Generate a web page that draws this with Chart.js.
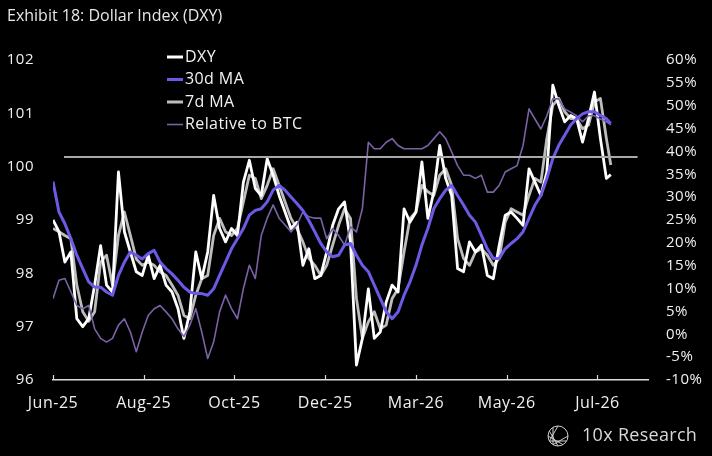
<!DOCTYPE html>
<html><head><meta charset="utf-8">
<script src="https://cdn.jsdelivr.net/npm/chart.js@4.4.1/dist/chart.umd.min.js"></script>
<style>html,body{margin:0;padding:0;background:#000;}#wrap{position:relative;width:712px;height:456px;background:#000;}</style>
</head><body><div id="wrap"><canvas id="c" width="712" height="456"></canvas></div>
<script>
// ---- data ----
const titleText = 'Exhibit 18: Dollar Index (DXY)';
const tickDays = [0, 61, 122, 183, 244, 305, 366];
const tickLabels = ['Jun-25', 'Aug-25', 'Oct-25', 'Dec-25', 'Mar-26', 'May-26', 'Jul-26'];
const leftTicks = [96, 97, 98, 99, 100, 101, 102];
const seriesNames = ['DXY', '30d MA', '7d MA', 'Relative to BTC'];

const days = [0,4,8,12,16,20,24,28,32,36,40,44,48,52,56,60,64,68,72,76,80,84,88,92,96,
  100,104,108,112,116,120,124,128,132,136,140,144,148,152,156,160,164,168,172,176,180,184,188,192,
  196,200,204,208,212,216,220,224,228,232,236,240,244,248,252,256,260,264,268,272,276,280,284,288,292,
  296,300,304,308,312,316,320,324,328,332,336,340,344,348,352,356,360,364,368,372,375];

const dxy = [99.0,98.78,98.21,98.4,97.15,97.0,97.15,97.78,98.52,97.78,97.65,99.9,98.78,98.4,98.03,97.96,98.34,97.9,98.15,97.78,97.65,97.34,96.78,97.28,98.4,
  97.9,98.4,99.46,98.84,98.59,98.84,98.71,99.71,100.12,99.59,99.46,100.15,99.84,99.46,99.15,98.84,98.96,98.15,98.46,97.9,97.96,98.4,98.9,99.21,
  99.34,98.59,96.28,96.78,97.71,96.78,96.9,97.46,97.78,97.65,99.21,98.96,99.15,100.09,99.03,99.53,100.4,99.78,99.46,98.09,98.03,98.59,98.4,98.53,97.96,
  97.9,98.53,99.09,99.15,99.03,98.9,99.96,99.71,99.46,99.9,101.53,101.15,100.84,100.96,100.9,100.46,100.9,101.4,100.53,99.78,99.85];

const ma7 = [98.84,98.78,98.71,98.65,97.78,97.28,97.1,97.28,98.21,98.34,97.78,98.71,99.15,98.71,98.27,98.15,98.21,98.15,98.03,97.96,97.78,97.59,97.21,97.15,97.59,
  97.9,97.96,98.71,99.03,98.78,98.71,98.84,99.34,99.84,99.78,99.4,99.65,99.96,99.65,99.34,99.03,98.84,98.59,98.28,98.15,97.96,98.15,98.53,98.9,
  99.21,99.03,97.53,96.78,97.09,97.28,96.96,97.03,97.53,97.71,98.4,99.03,99.15,99.65,99.53,99.46,99.84,99.96,99.65,98.65,98.28,98.15,98.4,98.46,98.34,
  98.15,98.28,98.96,99.21,99.15,99.09,99.46,99.78,99.71,100.53,101.15,101.28,101.03,100.9,100.9,100.71,100.78,101.21,101.28,100.53,100.03];

const ma30 = [99.72,99.15,98.93,98.65,98.34,98.09,97.84,97.74,97.74,97.65,97.59,97.96,98.21,98.4,98.34,98.27,98.37,98.43,98.21,98.09,97.99,97.87,97.74,97.65,97.62,
  97.62,97.59,97.71,97.96,98.21,98.46,98.65,98.84,99.09,99.18,99.21,99.34,99.56,99.65,99.56,99.43,99.31,99.18,98.99,98.78,98.56,98.4,98.31,98.34,
  98.53,98.56,98.34,98.15,98.03,97.78,97.53,97.28,97.15,97.28,97.59,97.84,98.15,98.53,98.84,99.21,99.4,99.56,99.65,99.46,99.28,99.09,98.96,98.71,98.46,
  98.28,98.28,98.46,98.56,98.65,98.78,99.03,99.28,99.46,99.78,100.15,100.4,100.59,100.78,100.9,100.99,101.03,101.03,100.96,100.9,100.81];

const relBtc = [7.8,11.8,12.2,9.3,6.3,5.6,6.3,1.2,-0.9,-1.7,-0.9,2.0,3.4,0.5,-3.8,0.5,4.1,5.6,6.3,4.9,3.4,1.2,-0.5,2.0,5.6,
  0.5,-5.3,-1.7,4.9,8.6,5.6,3.4,10.0,15.1,12.2,21.6,25.4,28.3,25.4,23.9,22.4,23.9,26.8,25.7,25.4,25.4,20.9,23.1,21.6,
  19.5,23.5,22.4,27.5,42.0,40.6,40.6,42.0,42.8,41.3,40.6,40.6,40.6,40.6,41.3,42.8,44.3,42.8,39.9,36.9,34.8,34.8,34.1,34.8,31.1,
  31.1,32.6,35.5,36.2,36.9,41.3,49.3,47.1,44.9,47.8,51.5,51.5,49.3,48.6,47.8,46.5,47.8,47.8,47.1,46.5,45.8];

const refLevel = 100.18;
const refDays = [7.4, 393];

// ---- build ----
const FONT = "'Open Sans', 'Noto Sans', sans-serif";
const pts = (xs, ys) => xs.map((x, i) => ({ x: x, y: ys[i] }));
const colors = { dxy: '#ffffff', ma30: '#6a5ae6', ma7: '#bdbdbd', btc: '#7a62a6', ref: '#a9a9a9' };

const datasets = [
  { label: 'ref', data: pts(refDays, [refLevel, refLevel]), borderColor: colors.ref, borderWidth: 2, yAxisID: 'y', order: 0 },
  { label: seriesNames[1], data: pts(days, ma30), borderColor: colors.ma30, borderWidth: 3, yAxisID: 'y', order: 1 },
  { label: seriesNames[3], data: pts(days, relBtc), borderColor: colors.btc, borderWidth: 1.6, yAxisID: 'y1', order: 2 },
  { label: seriesNames[0], data: pts(days, dxy), borderColor: colors.dxy, borderWidth: 2.8, yAxisID: 'y', order: 3 },
  { label: seriesNames[2], data: pts(days, ma7), borderColor: colors.ma7, borderWidth: 2.8, yAxisID: 'y', order: 4 }
];
datasets.forEach(d => { d.pointRadius = 0; d.tension = 0; d.fill = false; d.borderJoinStyle = 'round'; });

const spacingPlugin = {
  id: 'spacing',
  beforeDraw(chart) { chart.ctx.letterSpacing = '0.5px'; }
};

const decorPlugin = {
  id: 'customDecor',
  afterDatasetsDraw(chart) {
    const ctx = chart.ctx;
    const xs = chart.scales.x;
    const area = chart.chartArea;
    ctx.save();
    // upward tick marks on x axis
    ctx.strokeStyle = '#d9d9d9';
    ctx.lineWidth = 1.2;
    tickDays.forEach(d => {
      const px = Math.round(xs.getPixelForValue(d)) + 0.5;
      ctx.beginPath(); ctx.moveTo(px, area.bottom); ctx.lineTo(px, area.bottom - 5); ctx.stroke();
    });
    // legend
    ctx.letterSpacing = '0.4px';
    ctx.font = "16px " + FONT;
    ctx.textBaseline = 'middle';
    ctx.textAlign = 'left';
    seriesNames.forEach((name, i) => {
      const ds = chart.data.datasets.find(d => d.label === name);
      const y = 57 + i * 22.5;
      ctx.strokeStyle = ds.borderColor;
      ctx.lineWidth = name === seriesNames[3] ? 1.6 : 3;
      ctx.beginPath(); ctx.moveTo(167, y); ctx.lineTo(183, y); ctx.stroke();
      ctx.fillStyle = '#f2f2f2';
      ctx.fillText(name, 185, y);
    });
    // title
    ctx.letterSpacing = '0px';
    ctx.font = "16px " + FONT;
    ctx.fillStyle = '#e6e6e6';
    ctx.fillText(titleText, 7, 16);
    // logo
    const cx = 558, cy = 436, r = 10;
    ctx.strokeStyle = '#cfcfcf'; ctx.lineWidth = 1;
    ctx.beginPath(); ctx.arc(cx, cy, r, 0, Math.PI * 2); ctx.stroke();
    for (let k = 0; k < 6; k++) {
      const a = k * Math.PI / 6;
      ctx.beginPath();
      ctx.moveTo(cx + Math.cos(a) * r, cy + Math.sin(a) * r);
      ctx.lineTo(cx + Math.cos(a + Math.PI * 2 / 3) * r, cy + Math.sin(a + Math.PI * 2 / 3) * r);
      ctx.stroke();
    }
    ctx.letterSpacing = '0.3px';
    ctx.font = "18px " + FONT;
    ctx.fillStyle = '#d9d9d9';
    ctx.fillText('10x Research', 582, 436);
    ctx.restore();
  }
};

new Chart(document.getElementById('c'), {
  type: 'line',
  data: { datasets: datasets },
  options: {
    responsive: false,
    animation: false,
    devicePixelRatio: 1,
    layout: { padding: { top: 60, bottom: 0, left: 0, right: 0 } },
    plugins: { legend: { display: false }, tooltip: { enabled: false } },
    scales: {
      x: {
        type: 'linear', min: 0, max: 400,
        afterFit: s => { s.height = 76; },
        afterBuildTicks: s => { s.ticks = tickDays.map(v => ({ value: v })); },
        ticks: {
          color: '#f0f0f0', font: { family: FONT, size: 16 }, padding: 14, maxRotation: 0, autoSkip: false,
          callback: (v) => { const i = tickDays.indexOf(v); return i >= 0 ? tickLabels[i] : ''; }
        },
        grid: { display: false, drawTicks: false },
        border: { display: true, color: '#dcdcdc', width: 1.5 }
      },
      y: {
        position: 'left', min: 96, max: 102,
        afterFit: s => { s.width = 53; },
        afterBuildTicks: s => { s.ticks = leftTicks.map(v => ({ value: v })); },
        ticks: { color: '#f0f0f0', font: { family: FONT, size: 15 }, padding: 19 },
        grid: { display: false, drawTicks: false },
        border: { display: false }
      },
      y1: {
        position: 'right', min: -10, max: 60,
        afterFit: s => { s.width = 64; },
        ticks: { stepSize: 5, color: '#f0f0f0', font: { family: FONT, size: 15 }, padding: 18,
          callback: v => v + '%' },
        grid: { display: false, drawTicks: false },
        border: { display: false }
      }
    }
  },
  plugins: [spacingPlugin, decorPlugin]
});
</script></body></html>
